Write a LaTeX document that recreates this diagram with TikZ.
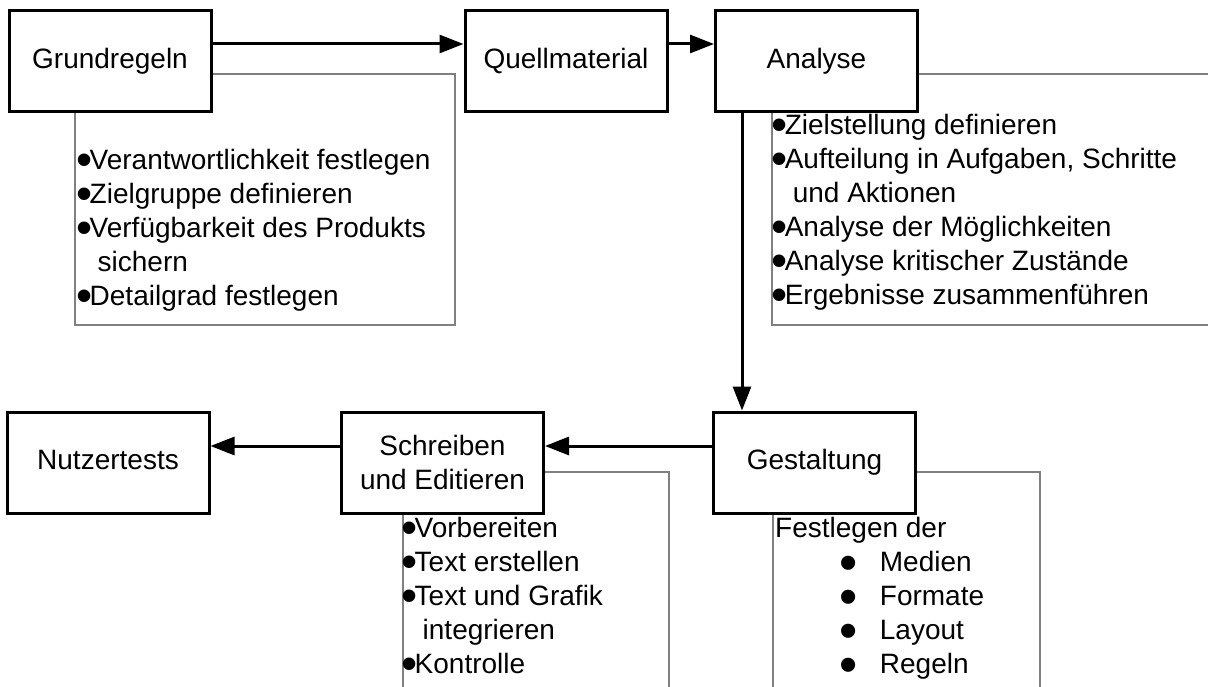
\documentclass[tikz,border=0pt]{standalone}
\usepackage{fontspec}
\setmainfont{Liberation Sans}
\usetikzlibrary{arrows.meta}
\definecolor{notegray}{RGB}{128,128,128}
% bullet item and continuation indent for the side lists
\newcommand\itm{\makebox[11pt][l]{\hspace*{-2.5pt}\smash{\raisebox{-6pt}{\fontsize{46}{46}\selectfont •}}}}
\newcommand\cont{\hspace*{19pt}}
\newcommand\sub{\hspace*{64pt}\makebox[40.7pt][l]{\smash{\raisebox{-9pt}{\fontsize{52}{52}\selectfont •}}}}
\begin{document}
\begin{tikzpicture}[x=1pt,y=-1pt,
  stagebase/.style={draw, line width=3pt, fill=white,
    minimum width=202pt, minimum height=101pt, inner sep=0pt,
    font=\fontsize{28}{34}\selectfont},
  stage/.style={stagebase, text height=20pt, text depth=6pt},
  flow/.style={line width=3pt, -{Triangle[length=24pt,width=18pt]}},
  note/.style={draw=notegray, line width=1.2pt},
  listtext/.style={anchor=base west, inner sep=0pt,
    font=\fontsize{28}{34}\selectfont},
]
\useasboundingbox (0,0) rectangle (1208,687);
\clip (0,0) rectangle (1208,687);

% annotation frames behind the stage boxes
\draw[note] (75,74) rectangle (455,325);
\draw[note] (772,74) rectangle (1230,325);
\draw[note] (403,472) rectangle (669,710);
\draw[note] (773,472) rectangle (1040,710);

% process stages
\node[stage] (grund)  at (110,61.5)   {Grundregeln};
\node[stage] (quell)  at (566,61.5)   {Quellmaterial};
\node[stage] (anal)   at (816.5,61.5) {Analyse};
\node[stage] (nutzer) at (108,462.5)  {Nutzertests};
\node[stagebase, align=center] (schreib) at (442.5,462.5) {Schreiben\\und Editieren};
\node[stage] (gestalt) at (814.5,462.5) {Gestaltung};

% flow between stages
\draw[flow] ([yshift=17.5pt]grund.east) -- ([yshift=17.5pt]quell.west);
\draw[flow] ([yshift=17.5pt]quell.east) -- ([yshift=17.5pt]anal.west);
\draw[flow] ([xshift=-74.5pt]anal.south) -- ([xshift=-74.5pt]anal.south |- gestalt.north);
\draw[flow] ([yshift=16.5pt]gestalt.west) -- ([yshift=16.5pt]schreib.east);
\draw[flow] ([yshift=16.5pt]schreib.west) -- ([yshift=16.5pt]nutzer.east);

% side lists
\node[listtext] (grundlist) at (78.5,170) {\begin{tabular}[t]{@{}l@{}}
\itm Verantwortlichkeit festlegen\\
\itm Zielgruppe definieren\\
\itm Verfügbarkeit des Produkts\\
\cont sichern\\
\itm Detailgrad festlegen
\end{tabular}};

\node[listtext] (anallist) at (773.6,135) {\begin{tabular}[t]{@{}l@{}}
\itm Zielstellung definieren\\
\itm Aufteilung in Aufgaben, Schritte\\
\cont und Aktionen\\
\itm Analyse der Möglichkeiten\\
\itm Analyse kritischer Zustände\\
\itm Ergebnisse zusammenführen
\end{tabular}};

\node[listtext] (schreiblist) at (403.5,537) {\begin{tabular}[t]{@{}l@{}}
\itm Vorbereiten\\
\itm Text erstellen\\
\itm Text und Grafik\\
\cont integrieren\\
\itm Kontrolle
\end{tabular}};

\node[listtext] (gestaltlist) at (775,537) {\begin{tabular}[t]{@{}l@{}}
Festlegen der\\
\sub Medien\\
\sub Formate\\
\sub Layout\\
\sub Regeln
\end{tabular}};
\end{tikzpicture}
\end{document}
